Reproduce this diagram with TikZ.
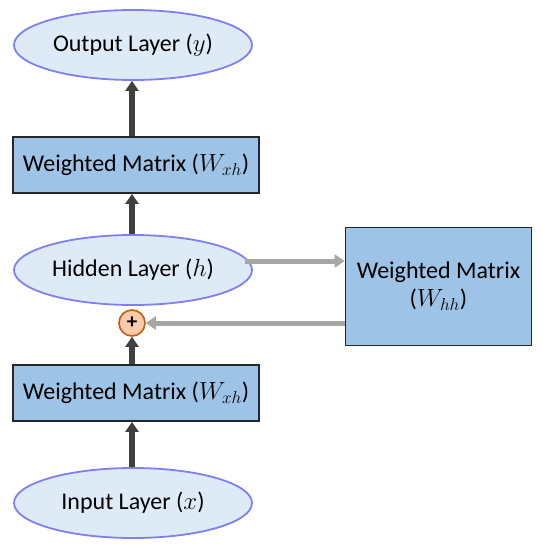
\documentclass[tikz,border=0pt]{standalone}
\usepackage{fontspec}
\setmainfont{Carlito}
\usepackage{tikz}
\usetikzlibrary{arrows.meta, shapes.geometric}

\definecolor{layerfill}{HTML}{DEEBF7}
\definecolor{layerdraw}{HTML}{7F7FF5}
\definecolor{matfill}{HTML}{9DC3E6}
\definecolor{flowdark}{HTML}{404040}
\definecolor{flowlight}{HTML}{A6A6A6}
\definecolor{sumfill}{HTML}{F8CBAD}
\definecolor{sumdraw}{HTML}{C55A11}

\tikzset{
	layer/.style={ellipse, draw=layerdraw, line width=1.8pt, fill=layerfill,
		minimum width=238pt, minimum height=70pt, inner sep=0pt},
	matrixbox/.style={rectangle, draw=black!85, line width=1.8pt, fill=matfill,
		minimum width=246pt, minimum height=56pt, inner sep=0pt},
	sumnode/.style={circle, draw=sumdraw, line width=1.6pt, fill=sumfill,
		minimum size=26pt, inner sep=0pt},
	upflow/.style={draw=flowdark, line width=5.5pt,
		-{Triangle[length=10pt, width=13pt]}},
	loopflow/.style={draw=flowlight, line width=5pt,
		-{Triangle[length=10pt, width=13pt]}}
}

\begin{document}
\begin{tikzpicture}[x=1pt, y=-1pt, font=\fontsize{24}{28}\selectfont]

		\useasboundingbox (0, 0) rectangle (542, 550);

		% Left column: layers and weights
		\node[layer] (out) at (133, 45) {Output Layer ($y$)};
		\node[matrixbox] (Wout) at (136, 165) {Weighted Matrix ($W_{xh}$)};
		\node[layer] (hid) at (133, 270) {Hidden Layer ($h$)};
		\node[sumnode] (sum) at (132, 323) {\fontsize{21}{21}\selectfont\bfseries +};
		\node[matrixbox] (Win) at (136, 393) {Weighted Matrix ($W_{xh}$)};
		\node[layer] (inp) at (133, 503) {Input Layer ($x$)};

		% Right column: recurrent weights
		\node[matrixbox, minimum width=186pt, minimum height=118pt, align=center]
			(Whh) at (438.5, 286.5) {Weighted Matrix\\($W_{hh}$)};

		% --- Connecting Lines ---

		% forward path, bottom to top
		\draw[upflow] (inp.north -| sum) -- (Win.south -| sum);
		\draw[upflow] (Win.north -| sum) -- (sum.south);
		\draw[upflow] (hid.north -| sum) -- (Wout.south -| sum);
		\draw[upflow] (Wout.north -| sum) -- (out.south -| sum);

		% recurrent loop
		\draw[loopflow] ([xshift=-8pt, yshift=9pt]hid.east) -- (Whh.west |- 0, 261);
		\draw[loopflow] (Whh.west |- sum) -- (sum.east);

	\end{tikzpicture}
\end{document}
